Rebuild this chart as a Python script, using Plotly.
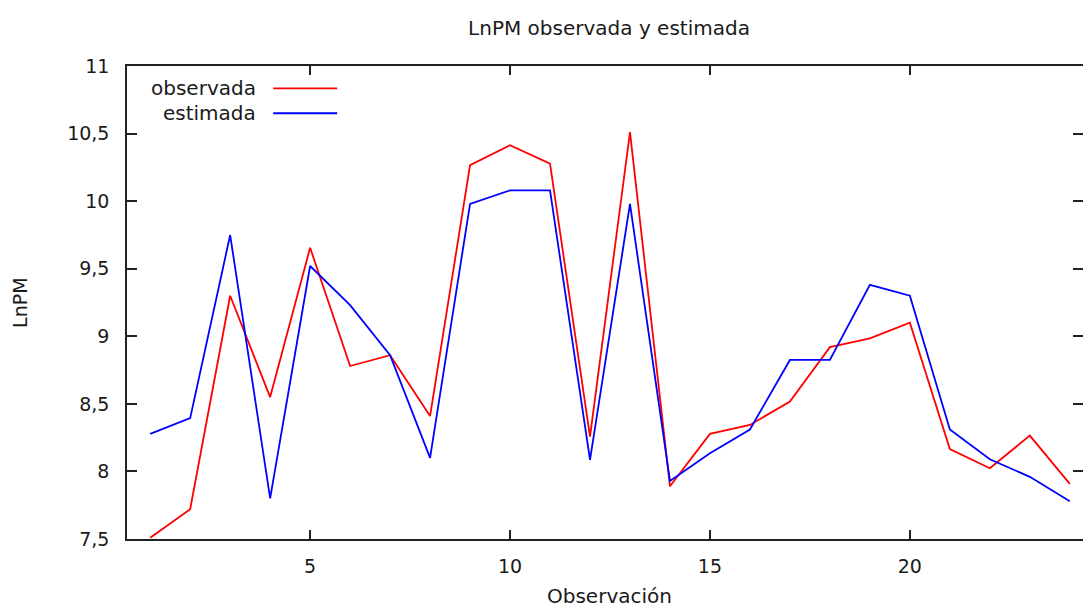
import plotly.graph_objects as go

obs_idx = list(range(1, 25))
observada = [7.51, 7.72, 9.30, 8.55, 9.655, 8.78, 8.86, 8.41, 10.266, 10.414, 10.278, 8.258,
             10.51, 7.89, 8.278, 8.344, 8.517, 8.92, 8.985, 9.10, 8.165, 8.024, 8.265, 7.908]
estimada = [8.278, 8.394, 9.749, 7.80, 9.52, 9.23, 8.86, 8.10, 9.98, 10.08, 10.08, 8.086,
            9.98, 7.93, 8.135, 8.31, 8.825, 8.825, 9.38, 9.30, 8.31, 8.09, 7.96, 7.78]
series_names = ["observada", "estimada"]
series_colors = ["#ff0000", "#0000ff"]

FONT = "DejaVu Sans"
TXT = "#1a1a1a"

fig = go.Figure()
for name, vals, col in zip(series_names, [observada, estimada], series_colors):
    fig.add_trace(go.Scatter(x=obs_idx, y=vals, mode="lines", name=name,
                             line=dict(color=col, width=1.8), showlegend=False))
# empty trace to carry the mirrored right-hand tick axis (ticks only, no line)
fig.add_trace(go.Scatter(x=[], y=[], yaxis="y2", showlegend=False, hoverinfo="skip"))

# custom gnuplot-style legend (text then line sample)
leg_y = [0.9529, 0.9001]
for name, col, yy in zip(series_names, series_colors, leg_y):
    fig.add_annotation(xref="paper", yref="paper", x=0.1373, y=yy, text=name,
                       showarrow=False, xanchor="right", yanchor="middle",
                       font=dict(family=FONT, size=20, color=TXT))
    fig.add_shape(type="line", xref="paper", yref="paper", x0=0.1530, x1=0.2199,
                  y0=yy, y1=yy, line=dict(color=col, width=1.8))

# axis titles
fig.add_annotation(xref="paper", yref="paper", x=0.5043, y=-0.1197, text="Observación",
                   showarrow=False, xanchor="center", yanchor="middle",
                   font=dict(family=FONT, size=20, color=TXT))
fig.add_annotation(xref="paper", yref="paper", x=-0.1125, y=0.5, text="LnPM",
                   showarrow=False, xanchor="center", yanchor="middle", textangle=-90,
                   font=dict(family=FONT, size=19, color=TXT))

fig.update_layout(
    width=1083, height=610,
    margin=dict(l=127, r=0, t=66, b=71),
    paper_bgcolor="white", plot_bgcolor="white",
    separators=", ",
    title=dict(text="LnPM observada y estimada", x=609/1083, xanchor="center",
               y=1 - 28/610, yanchor="middle",
               font=dict(family=FONT, size=20, color=TXT)),
    font=dict(family=FONT, size=19, color=TXT),
    yaxis2=dict(overlaying="y", side="right", range=[7.5, 11], tickmode="linear",
                tick0=7.5, dtick=0.5, ticks="inside", ticklen=10, tickwidth=1.5,
                tickcolor="#222", showline=False, showticklabels=False,
                showgrid=False, zeroline=False),
)
fig.update_xaxes(range=[0.42, 24.33], tickmode="linear", tick0=0, dtick=5,
                 ticks="inside", ticklen=9, tickwidth=1.5, tickcolor="#222",
                 showline=True, linecolor="#222", linewidth=1.5, mirror="ticks",
                 showgrid=False, zeroline=False, ticklabelstandoff=9,
                 tickfont=dict(family=FONT, size=19, color=TXT))
fig.update_yaxes(selector=dict(overlaying=None), range=[7.5, 11], tickmode="linear",
                 tick0=7.5, dtick=0.5,
                 ticks="inside", ticklen=10, tickwidth=1.5, tickcolor="#222",
                 showline=True, linecolor="#222", linewidth=1.5, mirror=False,
                 showgrid=False, zeroline=False, ticklabelstandoff=12,
                 tickfont=dict(family=FONT, size=19, color=TXT))
fig.layout.yaxis2.showline = False
fig.layout.yaxis2.showticklabels = False

fig.write_html("out.html", config={"displayModeBar": False},
               post_script="document.body.style.margin='0';document.body.style.overflow='hidden';")
